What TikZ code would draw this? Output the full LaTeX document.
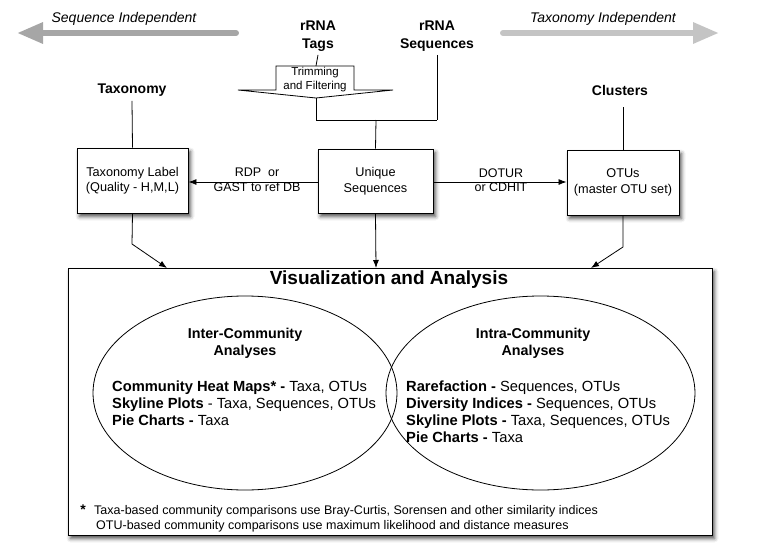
\documentclass[tikz,border=0pt]{standalone}
\usepackage{fontspec}
\setmainfont{Liberation Sans}
\usetikzlibrary{arrows.meta,shadows.blur}
\begin{document}
\begin{tikzpicture}[x=1pt,y=-1pt,
  boxnode/.style={draw,fill=white,line width=0.9pt,align=center,inner sep=0pt,
     font=\fontsize{12.7}{15.5}\selectfont,
     blur shadow={shadow xshift=2.5pt,shadow yshift=-3.5pt,shadow blur radius=4pt,shadow opacity=70}},
  headlbl/.style={align=center,font=\bfseries\fontsize{14}{18}\selectfont},
  lbl/.style={align=center,font=\fontsize{12.5}{14.5}\selectfont},
  conn/.style={line width=0.8pt},
  arr/.style={conn,-{Latex[length=8pt,width=6pt]}},
  items/.style={align=left,inner sep=0pt,font=\fontsize{14.7}{17}\selectfont},
  bigarrow/.style={line width=6pt,line cap=round},
]
\useasboundingbox (0,0) rectangle (764,560);

% direction arrows
\draw[bigarrow,color=black!35,{Triangle[length=26pt,width=20pt]}-] (17,33) -- (236,33);
\draw[bigarrow,color=black!23,-{Triangle[length=26pt,width=20pt]}] (503,33) -- (719,33);
\node[font=\itshape\fontsize{14}{16}\selectfont] (seqind) at (124,19) {Sequence Independent};
\node[font=\itshape\fontsize{14}{16}\selectfont] (taxind) at (603,19) {Taxonomy Independent};

% sources
\node[headlbl] (tags) at (318,36) {rRNA\\Tags};
\node[headlbl] (seqs) at (437,36) {rRNA\\Sequences};
\node[headlbl] (taxo) at (132,90) {Taxonomy};
\node[headlbl] (clus) at (620,90) {Clusters};

% block arrow (trimming)
\draw[line width=0.8pt,fill=white] (276,66) -- (354,66) -- (354,90) -- (393,90) -- (316,98)
   -- (238,90) -- (276,90) -- cycle;
\coordinate (btop) at (316,66);
\coordinate (btip) at (316,98);
\node[align=center,font=\fontsize{11.5}{14}\selectfont] (trim) at (315,80) {Trimming\\and Filtering};

% boxes
\node[boxnode,minimum width=111pt,minimum height=65pt] (tax) at (132.5,180.5) {Taxonomy Label\\(Quality - H,M,L)};
\node[boxnode,minimum width=115pt,minimum height=64pt] (uniq) at (375.5,181) {Unique\\Sequences};
\node[boxnode,minimum width=112pt,minimum height=65pt] (otu) at (623,182.5) {OTUs\\(master OTU set)};

% join lines
\coordinate (jl) at (316,120);
\coordinate (jr) at (437,120);
\coordinate (jm) at (376,120);
\draw[conn] (tags.south) -- (btop);
\draw[conn] (btip) -- (jl) -- (jr);
\draw[conn] (seqs.south) -- (jr);
\draw[conn] (jm) -- (uniq.north);
\draw[conn] (taxo.south) ++(0,1) -- (tax.north);
\draw[conn] (623,107) -- (otu.north);

% horizontal arrows
\draw[arr] (uniq.west |- 0,182) -- (tax.east |- 0,182);
\draw[arr] (uniq.east |- 0,182) -- (otu.west |- 0,182);
\node[lbl] (rdp) at (257,180) {RDP\ \ or\\GAST to ref DB};
\node[lbl] (dotur) at (501,180) {DOTUR\\or CDHIT};

% big box
\node[boxnode,minimum width=644pt,minimum height=267pt] (va) at (390,401.5) {};
\node[font=\bfseries\fontsize{19}{22}\selectfont] (vatitle) at (389,280) {Visualization and Analysis};

% arrows down
\coordinate (tb) at (132,244);
\coordinate (ob) at (623,247);
\draw[arr] (tax.south) -- (tb) -- (167,268);
\draw[arr] (uniq.south) -- (376,268);
\draw[arr] (otu.south) -- (ob) -- (591,268);

% ellipses
\draw[line width=0.8pt] (245,393) ellipse [x radius=152, y radius=97];
\draw[line width=0.8pt] (540.5,393) ellipse [x radius=154.5, y radius=97];

\node[headlbl,font=\bfseries\fontsize{14.3}{17}\selectfont] (inter) at (245,343.5) {Inter-Community\\Analyses};
\node[headlbl,font=\bfseries\fontsize{14.3}{17}\selectfont] (intra) at (533,343.5) {Intra-Community\\Analyses};

\node[items,anchor=west] (interitems) at (112,403) {%
\textbf{Community Heat Maps* -} Taxa, OTUs\\
\textbf{Skyline Plots} - Taxa, Sequences, OTUs\\
\textbf{Pie Charts -} Taxa};
\node[items,anchor=west] (intraitems) at (406,411.5) {%
\textbf{Rarefaction -} Sequences, OTUs\\
\textbf{Diversity Indices -} Sequences, OTUs\\
\textbf{Skyline Plots -} Taxa, Sequences, OTUs\\
\textbf{Pie Charts -} Taxa};

% footnote
\node[font=\bfseries\fontsize{14}{14}\selectfont] (star) at (83,510) {*};
\node[anchor=west,align=left,inner sep=0pt,font=\fontsize{12.5}{15}\selectfont] (foot) at (94,518.5) {%
Taxa-based community comparisons use Bray-Curtis, Sorensen and other similarity indices\\
\hspace*{2pt}OTU-based community comparisons use maximum likelihood and distance measures};
\end{tikzpicture}
\end{document}
